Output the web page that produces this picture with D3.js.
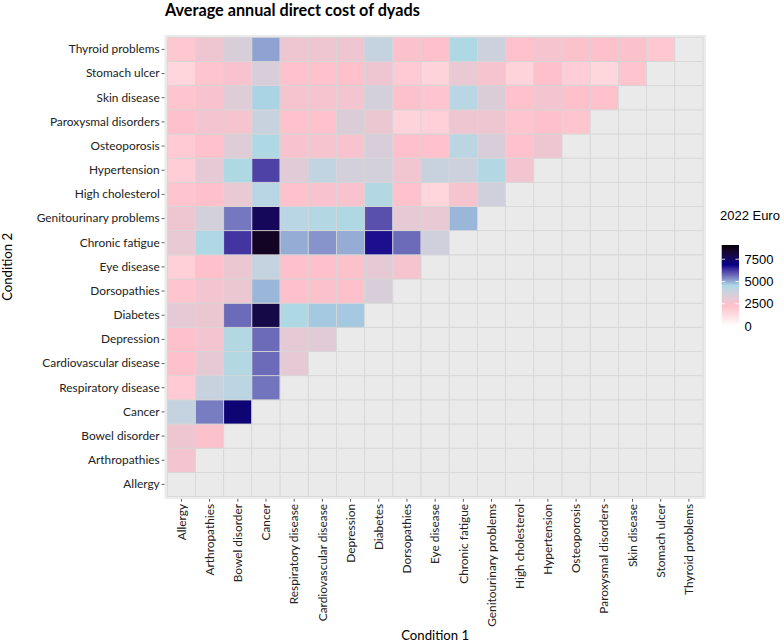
<!DOCTYPE html>
<html><head><meta charset="utf-8">
<script src="https://cdn.jsdelivr.net/npm/d3@7"></script>
<style>body{margin:0;background:#fff}svg{display:block}</style>
</head><body><svg id="chart" width="784" height="644"></svg>
<script>
// Conditions (x: Condition 1 order; y: Condition 2 bottom-to-top uses same order)
const conditions = ["Allergy","Arthropathies","Bowel disorder","Cancer","Respiratory disease",
  "Cardiovascular disease","Depression","Diabetes","Dorsopathies","Eye disease","Chronic fatigue",
  "Genitourinary problems","High cholesterol","Hypertension","Osteoporosis","Paroxysmal disorders",
  "Skin disease","Stomach ulcer","Thyroid problems"];

// Average annual direct cost (2022 Euro) per Condition 2 row, across Condition 1 columns in order
const rowAllergy = [];
const rowArthropathies = [2700];
const rowBowel = [2800, 2400];
const rowCancer = [4000, 5500, 7200];
const rowRespiratory = [1900, 3900, 4200, 5600];
const rowCardiovascular = [2300, 3100, 4400, 5700, 3100];
const rowDepression = [2300, 2700, 4400, 5700, 3100, 3200];
const rowDiabetes = [3100, 2900, 5700, 7900, 4500, 4700, 4700];
const rowDorsopathies = [2100, 2700, 2900, 4900, 2300, 2400, 2300, 3500];
const rowEye = [1700, 2300, 2900, 4000, 2300, 2300, 2400, 3100, 2600];
const rowChronicFatigue = [3000, 4500, 6300, 8600, 5000, 5250, 5000, 6700, 5700, 3700];
const rowGenitourinary = [2800, 3600, 5550, 7600, 4300, 4400, 4500, 6000, 3100, 3000, 4900];
const rowHighCholesterol = [2100, 2300, 3000, 4300, 2250, 2500, 2500, 4400, 2250, 1500, 2600, 3700];
const rowHypertension = [1800, 3100, 4500, 6150, 3200, 4100, 3600, 3600, 2700, 3900, 3800, 4400, 2700];
const rowOsteoporosis = [1900, 2200, 3300, 4500, 2500, 2600, 2500, 3500, 2300, 2250, 4200, 3500, 2250, 2800];
const rowParoxysmal = [2300, 2700, 2600, 3900, 2200, 2200, 3400, 2900, 1600, 1700, 2800, 2800, 2100, 2300, 2100];
const rowSkin = [2100, 2500, 3300, 4600, 2600, 2600, 2700, 3600, 2350, 2100, 4300, 3400, 2250, 2700, 2300, 2200];
const rowStomach = [1500, 2100, 2500, 3500, 2200, 2250, 2300, 2800, 1900, 1600, 3000, 2600, 1600, 2300, 1800, 1500, 2100];
const rowThyroid = [2000, 2800, 3500, 5100, 2800, 2800, 2800, 4000, 2400, 2300, 4500, 3800, 2250, 2600, 2400, 2300, 2400, 2000];

const legendBreaks = [0, 2500, 5000, 7500];
const colourLimits = [0, 9100];
const gradientColours = ["white", "pink", "lightblue", "darkblue", "black"];

const rows = [rowAllergy, rowArthropathies, rowBowel, rowCancer, rowRespiratory, rowCardiovascular,
  rowDepression, rowDiabetes, rowDorsopathies, rowEye, rowChronicFatigue, rowGenitourinary,
  rowHighCholesterol, rowHypertension, rowOsteoporosis, rowParoxysmal, rowSkin, rowStomach, rowThyroid];

const cells = [];
conditions.forEach((c2, j) => {
  conditions.forEach((c1, i) => {
    cells.push({c1, c2, v: i < rows[j].length ? rows[j][i] : null});
  });
});

const svg = d3.select("#chart");
const font = "Lato, 'Open Sans', sans-serif";
const sans = "'Liberation Sans', Arial, sans-serif";

// scale a text selection's font so that its widest member has the target width
function fitWidth(sel, base, target) {
  let w = 0;
  sel.attr("font-size", base).each(function () { w = Math.max(w, this.getComputedTextLength()); });
  const fs = w > 0 ? base * target / w : base;
  sel.attr("font-size", fs);
  return fs;
}

const tileX0 = 167.3, tileX1 = 703, tileY0 = 37.3, tileY1 = 496.5;
const x = d3.scaleBand().domain(conditions).range([tileX0, tileX1]);
const y = d3.scaleBand().domain(conditions.slice().reverse()).range([tileY0, tileY1]);
const padX = x.bandwidth() * 0.1, padY = y.bandwidth() * 0.1;

const cstops = gradientColours.map((_, k) => colourLimits[0] + (colourLimits[1] - colourLimits[0]) * k / (gradientColours.length - 1));
const colour = d3.scaleLinear().domain(cstops).range(gradientColours).interpolate(d3.interpolateLab).clamp(true);

// Panel background
svg.append("rect").attr("x", tileX0 - padX).attr("y", tileY0 - padY)
  .attr("width", tileX1 - tileX0 + 2 * padX).attr("height", tileY1 - tileY0 + 2 * padY)
  .attr("fill", "#EBEBEB");

// Tiles
svg.append("g").selectAll("rect").data(cells).join("rect")
  .attr("x", d => x(d.c1)).attr("y", d => y(d.c2))
  .attr("width", x.bandwidth()).attr("height", y.bandwidth())
  .attr("fill", d => d.v == null ? "#EAEAEA" : colour(d.v))
  .attr("stroke", "#D6D6D6").attr("stroke-width", 0.8);

// Axes
const panelBottom = tileY1 + padY, panelLeft = tileX0 - padX;
const xAxis = svg.append("g").attr("transform", `translate(0,${panelBottom})`)
  .call(d3.axisBottom(x).tickSize(2.8).tickPadding(2));
xAxis.select(".domain").remove();
xAxis.selectAll(".tick line").attr("stroke", "#333").attr("stroke-width", 0.8);
const xt = xAxis.selectAll(".tick text")
  .attr("font-family", font).attr("fill", "#222")
  .attr("transform", "rotate(-90)").attr("text-anchor", "end")
  .attr("x", -5).attr("y", 0).attr("dy", "0.35em");
const tickFs = fitWidth(xt, 12.5, 123);

const yAxis = svg.append("g").attr("transform", `translate(${panelLeft},0)`)
  .call(d3.axisLeft(y).tickSize(2.8).tickPadding(2));
yAxis.select(".domain").remove();
yAxis.selectAll(".tick line").attr("stroke", "#333").attr("stroke-width", 0.8);
yAxis.selectAll(".tick text")
  .attr("font-family", font).attr("font-size", tickFs).attr("fill", "#222");

// Titles
const title = svg.append("text").attr("x", 165).attr("y", 16).text("Average annual direct cost of dyads")
  .attr("font-family", font).attr("font-weight", "bold").attr("fill", "#000");
fitWidth(title, 16, 255);
const xt1 = svg.append("text").attr("x", (tileX0 + tileX1) / 2).attr("y", 640).attr("text-anchor", "middle")
  .text("Condition 1").attr("font-family", font).attr("fill", "#000");
const axFs = fitWidth(xt1, 13.5, 68);
svg.append("text").attr("transform", `translate(12,${(tileY0 + tileY1) / 2}) rotate(-90)`)
  .attr("text-anchor", "middle").text("Condition 2")
  .attr("font-family", font).attr("font-size", axFs).attr("fill", "#000");

// Legend
const legX = 721.7, legW = 17.3, legTop = 245, legBottom = 326;
const ly = d3.scaleLinear().domain(colourLimits).range([legBottom, legTop]);
const defs = svg.append("defs");
const grad = defs.append("linearGradient").attr("id", "lg").attr("x1", 0).attr("y1", 1).attr("x2", 0).attr("y2", 0);
d3.range(0, 1.0001, 0.02).forEach(t => {
  grad.append("stop").attr("offset", t).attr("stop-color", colour(colourLimits[0] + t * (colourLimits[1] - colourLimits[0])));
});
svg.append("rect").attr("x", legX).attr("y", legTop).attr("width", legW).attr("height", legBottom - legTop)
  .attr("fill", "url(#lg)");
const lt = svg.append("g");
legendBreaks.forEach(b => {
  lt.append("line").attr("x1", legX).attr("x2", legX + legW / 5).attr("y1", ly(b)).attr("y2", ly(b))
    .attr("stroke", "white").attr("stroke-width", 0.8);
  lt.append("line").attr("x1", legX + legW * 4 / 5).attr("x2", legX + legW).attr("y1", ly(b)).attr("y2", ly(b))
    .attr("stroke", "white").attr("stroke-width", 0.8);
  lt.append("text").attr("x", legX + legW + 5.5).attr("y", ly(b)).attr("dy", "0.36em")
    .text(b).attr("font-family", sans).attr("font-size", 13).attr("fill", "#000");
});
const lgt = svg.append("text").attr("x", 720).attr("y", 220).text("2022 Euro")
  .attr("font-family", sans).attr("fill", "#000");
fitWidth(lgt, 13.5, 60);
</script></body></html>
